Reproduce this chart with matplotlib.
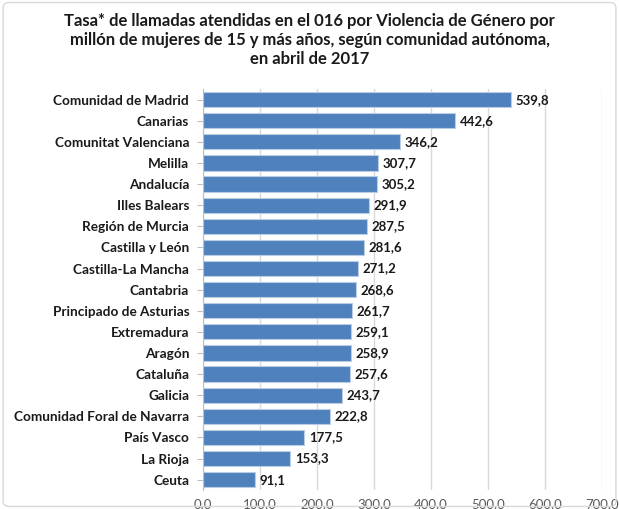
import matplotlib.pyplot as plt
from matplotlib.patches import FancyBboxPatch

regiones = ["Comunidad de Madrid", "Canarias", "Comunitat Valenciana", "Melilla",
            "Andalucía", "Illes Balears", "Región de Murcia", "Castilla y León",
            "Castilla-La Mancha", "Cantabria", "Principado de Asturias", "Extremadura",
            "Aragón", "Cataluña", "Galicia", "Comunidad Foral de Navarra",
            "País Vasco", "La Rioja", "Ceuta"]
tasas = [539.8, 442.6, 346.2, 307.7, 305.2, 291.9, 287.5, 281.6, 271.2, 268.6,
         261.7, 259.1, 258.9, 257.6, 243.7, 222.8, 177.5, 153.3, 91.1]
ticks_x = [0, 100, 200, 300, 400, 500, 600, 700]

plt.rcParams['font.family'] = ['Lato', 'DejaVu Sans']

fig = plt.figure(figsize=(6.19, 5.09), dpi=100)
ax = fig.add_axes([0.328, 0.037, 0.6445, 0.788])

# marco exterior suave
fig.patches.append(FancyBboxPatch((0.005, 0.005), 0.99, 0.99, boxstyle="round,pad=0,rounding_size=0.01",
                                  transform=fig.transFigure, fill=False, edgecolor='#d9d9d9', linewidth=1))

pos = list(range(len(regiones)))
ax.barh(pos, tasas, height=0.72, color='#4f81bd', edgecolor='#b9cde5', linewidth=0.8, zorder=2)
for y, v in zip(pos, tasas):
    ax.text(v + 8, y, f"{v:.1f}".replace('.', ','), va='center', ha='left',
            fontsize=9.5, fontweight='bold', color='#1a1a1a', zorder=3)

ax.set_ylim(len(regiones) - 0.5, -0.5)
ax.set_yticks(pos)
ax.set_yticklabels(regiones, fontsize=9.8, fontweight='bold', color='#1a1a1a')
ax.set_xlim(0, 700)
ax.set_xticks(ticks_x)
ax.set_xticklabels([f"{t:.1f}" for t in ticks_x], fontsize=9.5, color='#595959')
ax.xaxis.grid(True, color='#d9d9d9', linewidth=1, zorder=0)
ax.set_axisbelow(True)
for s in ['top', 'right', 'bottom']:
    ax.spines[s].set_visible(False)
ax.spines['left'].set_color('#bfbfbf')
ax.tick_params(axis='y', length=4, color='#bfbfbf', pad=6)
ax.tick_params(axis='x', length=0, pad=6)

fig.text(0.5, 0.974, "Tasa* de llamadas atendidas en el 016 por Violencia de Género por\n"
         "millón de mujeres de 15 y más años, según comunidad autónoma,\n"
         "en abril de 2017", ha='center', va='top', fontsize=12, fontweight='bold',
         color='#1a1a1a', linespacing=1.22)

plt.savefig("out.png", dpi=100)
